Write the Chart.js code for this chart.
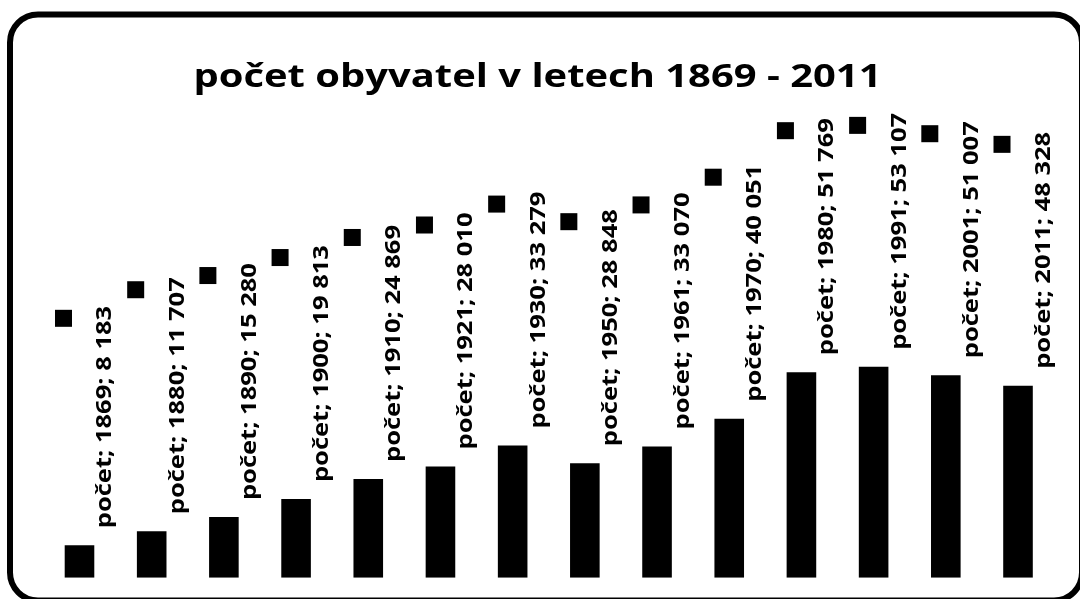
<!DOCTYPE html>
<html>
<head>
<meta charset="utf-8">
<script src="https://cdn.jsdelivr.net/npm/chart.js@4.4.1/dist/chart.umd.min.js"></script>
<style>
  html, body { margin: 0; padding: 0; background: #fff; }
  #wrap { position: relative; width: 1080px; height: 599px; }
</style>
</head>
<body>
<div id="wrap"><canvas id="chart" width="1080" height="599"></canvas></div>
<script>
// ── Data ──────────────────────────────────────────────────────────────────────
const TITLE   = "počet obyvatel v letech 1869 - 2011";
const SERIES  = "počet";
const YEARS   = ["1869", "1880", "1890", "1900", "1910", "1921", "1930",
                 "1950", "1961", "1970", "1980", "1991", "2001", "2011"];
const COUNTS  = [8183, 11707, 15280, 19813, 24869, 28010, 33279,
                 28848, 33070, 40051, 51769, 53107, 51007, 48328];

const FONT = "'Open Sans', 'Noto Sans', sans-serif";
const STRETCH_TITLE = 1.21;   // reference glyphs are wider than Open Sans
const STRETCH_LABEL = 1.16;

// thousands with a space, like the Czech Excel label
const fmt = v => String(v).replace(/\B(?=(\d{3})+(?!\d))/g, " ");

// ── Frame + title ─────────────────────────────────────────────────────────────
const framePlugin = {
  id: "frame",
  afterDraw(chart) {
    const ctx = chart.ctx;
    ctx.save();
    ctx.lineWidth = 6;
    ctx.strokeStyle = "#000";
    ctx.beginPath();
    ctx.roundRect(10, 14.5, 1072, 586, 28);
    ctx.stroke();

    ctx.fillStyle = "#000";
    ctx.font = "bold 33px " + FONT;
    ctx.textAlign = "center";
    ctx.textBaseline = "alphabetic";
    ctx.translate(537.5, 87);
    ctx.scale(STRETCH_TITLE, 1);
    ctx.fillText(TITLE, 0, 0);
    ctx.restore();
  }
};

// ── Rotated data labels with legend key ───────────────────────────────────────
const labelPlugin = {
  id: "barLabels",
  afterDatasetsDraw(chart) {
    const ctx  = chart.ctx;
    const meta = chart.getDatasetMeta(0);
    ctx.save();
    ctx.fillStyle = "#000";
    ctx.font = "bold 22px " + FONT;
    ctx.textAlign = "left";
    ctx.textBaseline = "alphabetic";
    meta.data.forEach((bar, i) => {
      const txt = SERIES + "; " + YEARS[i] + "; " + fmt(COUNTS[i]);
      const w   = ctx.measureText(txt).width * STRETCH_LABEL;
      const y0  = bar.y - 17;           // where the text starts (bottom)
      ctx.save();
      ctx.translate(bar.x + 32, y0);
      ctx.rotate(-Math.PI / 2);
      ctx.scale(STRETCH_LABEL, 1);
      ctx.fillText(txt, 0, 0);
      ctx.restore();
      // legend key square
      ctx.fillRect(bar.x - 24.5, y0 - w + 4, 17, 17);
    });
    ctx.restore();
  }
};

// ── Chart ─────────────────────────────────────────────────────────────────────
new Chart(document.getElementById("chart"), {
  type: "bar",
  data: {
    labels: YEARS,
    datasets: [{
      label: SERIES,
      data: COUNTS,
      backgroundColor: "#000",
      borderWidth: 0,
      barPercentage: 0.41,
      categoryPercentage: 1.0,
    }],
  },
  options: {
    responsive: false,
    animation: false,
    events: [],
    layout: { padding: { left: 43.4, right: 25.9, top: 180.7, bottom: 21.3 } },
    plugins: {
      legend:  { display: false },
      title:   { display: false },
      tooltip: { enabled: false },
    },
    scales: {
      x: { display: false },
      y: { display: false, min: 0, max: 100000 },
    },
  },
  plugins: [labelPlugin, framePlugin],
});
</script>
</body>
</html>
